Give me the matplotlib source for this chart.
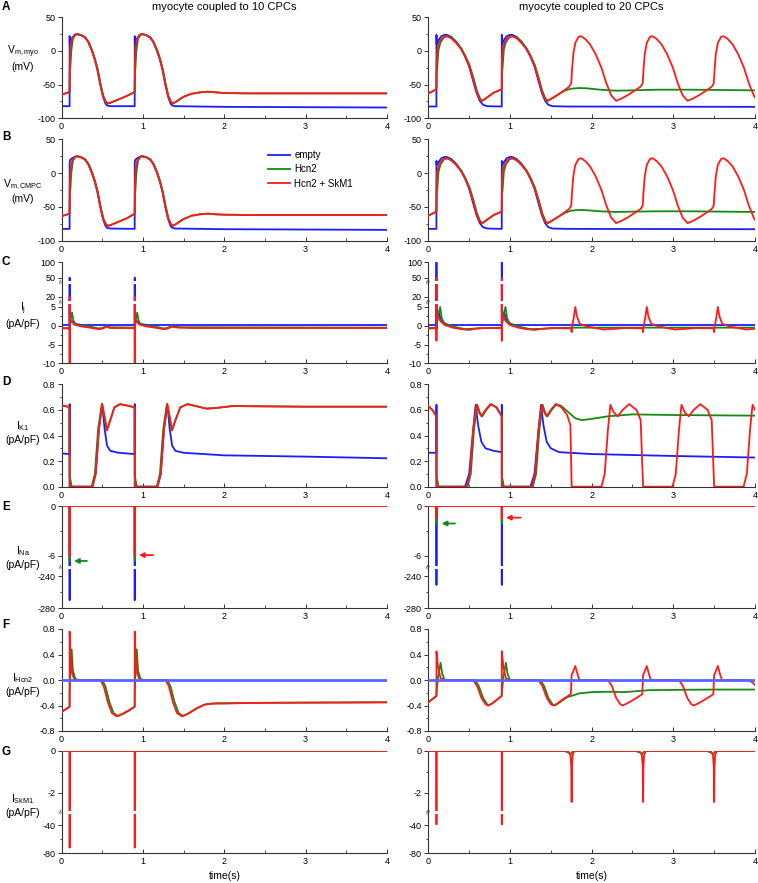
import numpy as np
import matplotlib.pyplot as plt

plt.rcParams['font.family'] = ['Liberation Sans', 'DejaVu Sans']
plt.rcParams['mathtext.fontset'] = 'custom'
plt.rcParams['mathtext.rm'] = 'Liberation Sans'
plt.rcParams['axes.unicode_minus'] = False

BLUE, GREEN, RED = '#1c1cff', '#138a13', '#ff1a1a'
FLAT_BLUE = '#5566ff'

series_names = ['empty', 'Hcn2', 'Hcn2 + SkM1']
col_titles = ['myocyte coupled to 10 CPCs', 'myocyte coupled to 20 CPCs']
spike_times = [0.1, 0.9]

# ---------------- A: Vm myocyte (mV) ----------------
vmyo10_t_red = [0, 0.05, 0.099, 0.102, 0.11, 0.13, 0.16, 0.19, 0.24, 0.29,
                0.33, 0.375, 0.41, 0.44, 0.477, 0.51, 0.54, 0.565, 0.6, 0.7,
                0.8, 0.899, 0.902, 0.91, 0.93, 0.96, 0.99, 1.04, 1.09, 1.13,
                1.175, 1.21, 1.24, 1.277, 1.31, 1.34, 1.365, 1.4, 1.5, 1.6,
                1.7, 1.8, 1.9, 2.0, 2.3, 3.0, 4.0]
vmyo10_red = [-65, -63, -61, -20, 5, 18, 24, 25, 23.5, 20,
              13, 0, -13, -27, -50, -67, -75, -78, -77, -72,
              -67, -61, -20, 5, 18, 24, 25, 23.5, 20, 13,
              0, -13, -27, -50, -67, -75, -78, -76, -68, -63.5,
              -61.5, -60.5, -61.5, -62.5, -63, -63, -63]
vmyo10_t_grn = [0, 0.05, 0.099, 0.103, 0.108, 0.12, 0.14, 0.17, 0.2, 0.245,
                0.295, 0.335, 0.38, 0.415, 0.445, 0.482, 0.515, 0.545, 0.57, 0.6,
                0.7, 0.8, 0.899, 0.903, 0.908, 0.92, 0.94, 0.97, 1.0, 1.045,
                1.095, 1.135, 1.18, 1.215, 1.245, 1.282, 1.315, 1.345, 1.37, 1.4,
                1.5, 1.6, 1.7, 1.8, 1.9, 2.0, 2.3, 3.0, 4.0]
vmyo10_grn = [-65, -63, -61, -30, -26, 0, 18, 24, 25, 23.5,
              20, 13, 0, -13, -27, -50, -67, -75, -78, -77,
              -72, -67, -61, -30, -26, 0, 18, 24, 25, 23.5,
              20, 13, 0, -13, -27, -50, -67, -75, -78, -76,
              -68, -63.5, -61.5, -60.5, -61.5, -62.5, -63, -63, -63]
vmyo10_t_blu = [0, 0.0995, 0.1, 0.102, 0.11, 0.13, 0.16, 0.19, 0.24, 0.29,
                0.33, 0.375, 0.41, 0.44, 0.477, 0.51, 0.54, 0.56, 0.6, 0.8995,
                0.9, 0.902, 0.91, 0.93, 0.96, 0.99, 1.04, 1.09, 1.13, 1.175,
                1.21, 1.24, 1.277, 1.31, 1.34, 1.36, 1.4, 2.0, 3.0, 4.0]
vmyo10_blu = [-82, -82, 22, 8, 12, 19, 24, 25, 23.5, 20,
              13, 0, -13, -27, -50, -68, -78, -81, -82, -82,
              22, 8, 12, 19, 24, 25, 23.5, 20, 13, 0,
              -13, -27, -50, -68, -78, -81, -82, -83, -83.5, -84]

vmyo20_t_red = [0, 0.05, 0.099, 0.102, 0.11, 0.13, 0.16, 0.2, 0.225, 0.28,
                0.34, 0.4, 0.45, 0.5, 0.55, 0.59, 0.63, 0.66, 0.72, 0.8, 0.899,
                0.902, 0.91, 0.93, 0.96, 1.0, 1.025, 1.08, 1.14, 1.2, 1.25,
                1.3, 1.35, 1.39, 1.43, 1.46, 1.52, 1.6, 1.68, 1.725,
                1.75, 1.76, 1.775, 1.8, 1.84, 1.87, 1.92, 1.98, 2.05, 2.12,
                2.18, 2.24, 2.3, 2.36, 2.45, 2.55, 2.6,
                2.625, 2.635, 2.65, 2.675, 2.715, 2.745, 2.795, 2.855, 2.925, 2.995,
                3.055, 3.115, 3.175, 3.235, 3.325, 3.425, 3.47,
                3.495, 3.505, 3.52, 3.545, 3.585, 3.615, 3.665, 3.725, 3.795, 3.865,
                3.925, 3.985, 4.0]
vmyo20_red = [-63, -60, -57, -15, 2, 12, 18, 21.5, 22, 19,
              12, 3, -8, -22, -42, -60, -72, -74, -69, -62, -57,
              -15, 2, 12, 18, 21.5, 22, 19, 12, 3, -8,
              -22, -42, -60, -72, -74, -70, -64, -57, -53,
              -48, -28, -5, 12, 21, 22, 18, 10, -5, -25,
              -48, -66, -74, -71, -65, -57, -53,
              -48, -28, -5, 12, 21, 22, 18, 10, -5, -25,
              -48, -66, -74, -71, -65, -57, -53,
              -48, -28, -5, 12, 21, 22, 18, 10, -5, -25,
              -48, -66, -69]
vmyo20_t_grn = [0, 0.05, 0.099, 0.103, 0.108, 0.125, 0.15, 0.19, 0.23, 0.285,
                0.345, 0.405, 0.455, 0.505, 0.555, 0.595, 0.635, 0.665, 0.72, 0.8, 0.899,
                0.903, 0.908, 0.925, 0.95, 0.99, 1.03, 1.085, 1.145, 1.205, 1.255,
                1.305, 1.355, 1.395, 1.435, 1.465, 1.52, 1.6, 1.68,
                1.75, 1.85, 1.95, 2.1, 2.3, 2.5, 2.8, 3.2, 3.6, 4.0]
vmyo20_grn = [-63, -60, -57, -30, -27, 2, 13, 20, 22, 19.5,
              12.5, 3.5, -7.5, -21, -41, -59, -71, -74, -69, -62, -57,
              -30, -27, 2, 13, 20, 22, 19.5, 12.5, 3.5, -7.5,
              -21, -41, -59, -71, -74, -70, -64, -58.5,
              -56, -55, -55.5, -57.5, -59, -58.5, -57.5, -57.5, -58, -58.5]
vmyo20_t_blu = [0, 0.0995, 0.1, 0.102, 0.11, 0.13, 0.16, 0.2, 0.225, 0.28,
                0.34, 0.4, 0.45, 0.5, 0.55, 0.59, 0.63, 0.67, 0.72, 0.8995,
                0.9, 0.902, 0.91, 0.93, 0.96, 1.0, 1.025, 1.08, 1.14, 1.2,
                1.25, 1.3, 1.35, 1.39, 1.43, 1.47, 1.52, 1.7, 4.0]
vmyo20_blu = [-82.5, -82.5, 24, 10, 12, 17, 22, 24, 24, 21,
              14, 4, -8, -23, -45, -62, -74, -80, -82, -82.5,
              24, 10, 12, 17, 22, 24, 24, 21, 14, 4,
              -8, -23, -45, -62, -74, -80, -82, -82.5, -83]

# ---------------- B: Vm CMPC (mV), same time grids as A ----------------
vcmpc10_red = [-63.5, -62, -60, -20, 5, 18, 24, 25, 23.5, 20,
               13, 0, -13, -27, -50, -67, -75, -78, -77, -72,
               -67, -60, -20, 5, 18, 24, 25, 23.5, 20, 13,
               0, -13, -27, -50, -67, -75, -78, -76, -68, -63,
               -61, -60, -61, -61.5, -62, -62, -62]
vcmpc10_grn = [-63.5, -62, -60, -30, -26, 0, 18, 24, 25, 23.5,
               20, 13, 0, -13, -27, -50, -67, -75, -78, -77,
               -72, -67, -60, -30, -26, 0, 18, 24, 25, 23.5,
               20, 13, 0, -13, -27, -50, -67, -75, -78, -76,
               -68, -63, -61, -60, -61, -61.5, -62, -62, -62]
vcmpc10_blu = [-82.5, -82.5, 14, 18, 20, 22, 24, 25, 23.5, 20,
               13, 0, -13, -27, -50, -68, -78, -81, -82, -82.5,
               14, 18, 20, 22, 24, 25, 23.5, 20, 13, 0,
               -13, -27, -50, -68, -78, -81, -82, -83, -83.5, -84]
vcmpc20_red = list(vmyo20_red)
vcmpc20_grn = [-63, -60, -57, -30, -27, 2, 13, 20, 22, 19.5,
               12.5, 3.5, -7.5, -21, -41, -59, -71, -74, -69, -62, -57,
               -30, -27, 2, 13, 20, 22, 19.5, 12.5, 3.5, -7.5,
               -21, -41, -59, -71, -74, -70, -64, -58.5,
               -55.5, -54.5, -55, -56.5, -57.5, -57, -56.5, -56.5, -57, -57.5]
vcmpc20_blu = [-82.5, -82.5, 18, 12, 13, 17, 22, 24, 24, 21,
               14, 4, -8, -23, -45, -62, -74, -80, -82, -82.5,
               18, 12, 13, 17, 22, 24, 24, 21, 14, 4,
               -8, -23, -45, -62, -74, -80, -82, -82.5, -83]

# ---------------- C: Ij (pA/pF) ----------------
ij10_t_blu = [0, 0.0995, 0.1, 0.1005, 0.11, 0.13, 0.17, 0.25, 0.8995, 0.9, 0.9005, 0.91, 0.93, 0.97, 1.05, 4.0]
ij10_blu = [0.2, 0.2, 50, -1, 1.0, 1.2, 0.5, 0.2, 0.2, 50, -1, 1.0, 1.2, 0.5, 0.2, 0.2]
ij10_t_red = [0, 0.0995, 0.1, 0.1003, 0.1006, 0.12, 0.16, 0.25, 0.35, 0.45,
              0.5, 0.55, 0.6, 0.75, 0.8995, 0.9, 0.9003, 0.9006, 0.92, 0.96,
              1.05, 1.15, 1.25, 1.3, 1.35, 1.45, 1.6, 2.5, 4.0]
ij10_red = [-0.7, -0.7, -12, 20, 2.5, 1.2, 0.3, -0.2, -0.5, -0.9,
            -0.8, -0.3, -0.6, -0.6, -0.6, -12, 20, 2.5, 1.2, 0.3,
            -0.2, -0.5, -0.9, -0.8, -0.3, -0.5, -0.6, -0.6, -0.6]
ij10_t_grn = [0, 0.0995, 0.1, 0.115, 0.13, 0.145, 0.17, 0.22, 0.35, 0.45,
              0.5, 0.55, 0.6, 0.8995, 0.9, 0.915, 0.93, 0.945, 0.97, 1.02,
              1.15, 1.25, 1.3, 1.35, 1.45, 4.0]
ij10_grn = [-0.6, -0.6, 0, 2, 3.5, 1.5, 0.4, 0.05, -0.2, -0.7,
            -0.6, -0.1, -0.4, -0.5, 0, 2, 3.5, 1.5, 0.4, 0.05,
            -0.2, -0.7, -0.6, -0.1, -0.4, -0.5]

ij20_t_blu = [0, 0.0995, 0.1, 0.1005, 0.11, 0.13, 0.16, 0.25, 0.8995, 0.9, 0.9005, 0.91, 0.93, 0.96, 1.05, 4.0]
ij20_blu = [0.2, 0.2, 100, -1, 2.5, 3.5, 1, 0.2, 0.2, 100, -1, 2.5, 3.5, 1, 0.2, 0.2]
ij20_t_red = [0, 0.0995, 0.1, 0.1003, 0.1006, 0.12, 0.14, 0.2, 0.3, 0.4, 0.5, 0.6, 0.7, 0.8995,
              0.9, 0.9003, 0.9006, 0.92, 0.94, 1.0, 1.1, 1.2, 1.3, 1.4, 1.5, 1.7,
              1.75, 1.755, 1.758, 1.78, 1.8, 1.82, 1.855, 1.945, 2.045, 2.145, 2.295, 2.4,
              2.625, 2.63, 2.633, 2.655, 2.675, 2.695, 2.73, 2.82, 2.92, 3.02, 3.17, 3.28,
              3.495, 3.5, 3.503, 3.525, 3.545, 3.565, 3.6, 3.69, 3.79, 3.89, 4.0]
ij20_red = [-0.8, -0.6, -4, 50, 2, 2.5, 1.5, 0.2, -0.5, -0.9, -1.1, -0.7, -0.6, -0.6,
            -4, 50, 2, 2.5, 1.5, 0.2, -0.5, -0.9, -1.1, -0.8, -0.6, -0.7,
            -0.7, -1.7, -0.5, 2, 5, 2.5, 0.5, -0.2, -0.6, -1.0, -0.8, -0.6,
            -0.7, -1.7, -0.5, 2, 5, 2.5, 0.5, -0.2, -0.6, -1.0, -0.8, -0.6,
            -0.7, -1.7, -0.5, 2, 5, 2.5, 0.5, -0.2, -0.6, -1.0, -0.8]
ij20_t_grn = [0, 0.0995, 0.1, 0.12, 0.145, 0.165, 0.2, 0.3, 0.45, 0.6,
              0.8995, 0.9, 0.92, 0.945, 0.965, 1.0, 1.1, 1.25, 1.4, 1.6, 1.8, 4.0]
ij20_grn = [-0.6, -0.5, -0.3, 3, 5, 2, 0.5, -0.2, -0.9, -0.7,
            -0.5, -0.3, 3, 5, 2, 0.5, -0.2, -0.9, -0.8, -0.6, -0.5, -0.5]

# ---------------- D: IK1 (pA/pF) ----------------
ik10_t_red = [0, 0.05, 0.0995, 0.1, 0.38, 0.42, 0.46, 0.5, 0.53, 0.56,
              0.6, 0.65, 0.72, 0.8, 0.8995, 0.9, 1.18, 1.22, 1.26, 1.3,
              1.33, 1.36, 1.4, 1.46, 1.55, 1.65, 1.78, 1.9, 2.1, 3.0, 4.0]
ik10_red = [0.635, 0.63, 0.62, 0.0, 0.0, 0.1, 0.45, 0.645, 0.55, 0.44,
            0.52, 0.62, 0.645, 0.635, 0.62, 0.0, 0.0, 0.1, 0.45, 0.645,
            0.55, 0.44, 0.52, 0.62, 0.645, 0.63, 0.61, 0.615, 0.63, 0.625, 0.625]
ik10_t_grn = [0, 0.05, 0.0995, 0.1, 0.105, 0.125, 0.37, 0.41, 0.45, 0.495,
              0.525, 0.555, 0.6, 0.65, 0.72, 0.8, 0.8995, 0.9, 0.905, 0.925,
              1.17, 1.21, 1.25, 1.295, 1.325, 1.355, 1.4, 1.46, 1.55, 1.65,
              1.78, 1.9, 2.1, 3.0, 4.0]
ik10_grn = [0.635, 0.63, 0.62, 0.09, 0.07, 0.0, 0.0, 0.1, 0.45, 0.645,
            0.55, 0.44, 0.52, 0.62, 0.645, 0.635, 0.62, 0.09, 0.07, 0.0,
            0.0, 0.1, 0.45, 0.645, 0.55, 0.44, 0.52, 0.62, 0.645, 0.63,
            0.61, 0.615, 0.63, 0.625, 0.625]
ik10_t_blu = [0, 0.0995, 0.1, 0.1005, 0.38, 0.42, 0.46, 0.5, 0.53, 0.56,
              0.6, 0.7, 0.8995, 0.9, 0.9005, 1.18, 1.22, 1.26, 1.3, 1.33,
              1.36, 1.4, 1.5, 2.0, 3.0, 4.0]
ik10_blu = [0.26, 0.255, 0.645, 0.0, 0.0, 0.1, 0.45, 0.645, 0.45, 0.32,
            0.28, 0.265, 0.255, 0.645, 0.0, 0.0, 0.1, 0.45, 0.645, 0.45,
            0.32, 0.28, 0.265, 0.245, 0.235, 0.222]

ik20_t_red = [0, 0.05, 0.0995, 0.1, 0.47, 0.51, 0.55, 0.59, 0.62, 0.65, 0.7, 0.76, 0.83, 0.8995,
              0.9, 1.27, 1.31, 1.35, 1.39, 1.42, 1.45, 1.5, 1.56, 1.63, 1.7, 1.74, 1.755,
              2.12, 2.16, 2.2, 2.23, 2.27, 2.32, 2.38, 2.46, 2.55, 2.6, 2.63,
              2.99, 3.03, 3.07, 3.1, 3.14, 3.19, 3.25, 3.33, 3.42, 3.47, 3.5,
              3.86, 3.9, 3.94, 3.97, 4.0]
ik20_red = [0.63, 0.6, 0.55, 0.0, 0.0, 0.1, 0.45, 0.64, 0.58, 0.55, 0.6, 0.645, 0.62, 0.55,
            0.0, 0.0, 0.1, 0.45, 0.64, 0.58, 0.55, 0.6, 0.645, 0.62, 0.56, 0.48, 0.0,
            0.0, 0.1, 0.45, 0.64, 0.58, 0.55, 0.6, 0.645, 0.6, 0.52, 0.0,
            0.0, 0.1, 0.45, 0.64, 0.58, 0.55, 0.6, 0.645, 0.6, 0.52, 0.0,
            0.0, 0.1, 0.45, 0.64, 0.6]
ik20_t_grn = [0, 0.05, 0.0995, 0.1, 0.105, 0.125, 0.48, 0.52, 0.56, 0.6,
              0.63, 0.66, 0.71, 0.77, 0.84, 0.8995, 0.9, 0.905, 0.925, 1.28,
              1.32, 1.36, 1.4, 1.43, 1.46, 1.51, 1.57, 1.63, 1.7, 1.8,
              1.88, 2.0, 2.2, 2.5, 3.0, 4.0]
ik20_grn = [0.63, 0.6, 0.55, 0.09, 0.07, 0.0, 0.0, 0.1, 0.45, 0.64,
            0.58, 0.55, 0.6, 0.645, 0.62, 0.55, 0.09, 0.07, 0.0, 0.0,
            0.1, 0.45, 0.64, 0.58, 0.55, 0.6, 0.645, 0.63, 0.59, 0.535,
            0.52, 0.53, 0.55, 0.565, 0.56, 0.555]
ik20_t_blu = [0, 0.0995, 0.1, 0.1005, 0.45, 0.5, 0.55, 0.58, 0.61, 0.65,
              0.7, 0.8, 0.8995, 0.9, 0.9005, 1.25, 1.3, 1.35, 1.38, 1.41,
              1.45, 1.5, 1.6, 2.0, 3.0, 4.0]
ik20_blu = [0.265, 0.265, 0.64, 0.0, 0.0, 0.1, 0.45, 0.64, 0.48, 0.35,
            0.3, 0.28, 0.27, 0.64, 0.0, 0.0, 0.1, 0.45, 0.64, 0.48,
            0.35, 0.3, 0.27, 0.255, 0.24, 0.228]

# ---------------- E: INa (pA/pF) ----------------
ina_t = [0, 0.0995, 0.1, 0.1005, 0.8995, 0.9, 0.9005, 4.0]
ina10_blu = [0, 0, -270, 0, 0, -270, 0, 0]
ina10_grn = [0, 0, -6.6, 0, 0, -6.6, 0, 0]
ina10_red = [0, 0, -6.0, 0, 0, -6.0, 0, 0]
ina20_blu = [0, 0, -251, 0, 0, -251, 0, 0]
ina20_grn = [0, 0, -2.1, 0, 0, -2.1, 0, 0]
ina20_red = [0, 0, -1.5, 0, 0, -1.5, 0, 0]

# ---------------- F: IHcn2 (pA/pF) ----------------
ih10_t_red = [0, 0.0995, 0.1, 0.11, 0.13, 0.16, 0.2, 0.48, 0.52, 0.57,
              0.62, 0.68, 0.75, 0.82, 0.8995, 0.9, 0.91, 0.93, 0.96, 1.0,
              1.28, 1.32, 1.37, 1.42, 1.48, 1.55, 1.65, 1.75, 1.85, 2.0,
              2.3, 3.0, 4.0]
ih10_red = [-0.5, -0.42, 0.76, 0.4, 0.1, 0.01, 0, 0, -0.1, -0.35,
            -0.52, -0.57, -0.53, -0.48, -0.42, 0.76, 0.4, 0.1, 0.01, 0,
            0, -0.1, -0.35, -0.52, -0.57, -0.53, -0.45, -0.39, -0.37, -0.37,
            -0.36, -0.355, -0.35]
ih10_t_grn = [0, 0.0995, 0.1, 0.11, 0.125, 0.14, 0.17, 0.2, 0.5, 0.54,
              0.59, 0.64, 0.695, 0.76, 0.83, 0.8995, 0.9, 0.91, 0.925, 0.94,
              0.97, 1.0, 1.3, 1.34, 1.39, 1.44, 1.495, 1.57, 1.67, 1.77,
              1.9, 2.2, 3.0, 4.0]
ih10_grn = [-0.5, -0.42, -0.2, 0.2, 0.48, 0.15, 0.02, 0, 0, -0.1,
            -0.35, -0.52, -0.565, -0.53, -0.48, -0.42, -0.2, 0.2, 0.48, 0.15,
            0.02, 0, 0, -0.1, -0.35, -0.52, -0.565, -0.52, -0.44, -0.38,
            -0.365, -0.36, -0.355, -0.35]

ih20_t_red = [0, 0.0995, 0.1, 0.12, 0.15, 0.2, 0.55, 0.6, 0.65, 0.7, 0.73, 0.78, 0.85, 0.8995,
              0.9, 0.92, 0.95, 1.0, 1.35, 1.4, 1.45, 1.5, 1.53, 1.58, 1.65, 1.7, 1.745,
              1.755, 1.77, 1.8, 1.825, 1.85, 2.2, 2.25, 2.3, 2.35, 2.38, 2.43, 2.5, 2.6, 2.62,
              2.63, 2.645, 2.675, 2.7, 2.725, 3.07, 3.12, 3.17, 3.22, 3.25, 3.3, 3.37, 3.47, 3.49,
              3.5, 3.515, 3.545, 3.57, 3.595, 3.92, 3.97, 4.0]
ih20_red = [-0.35, -0.25, 0.45, 0.2, 0.03, 0, 0, -0.1, -0.28, -0.38, -0.4, -0.37, -0.3, -0.25,
            0.45, 0.2, 0.03, 0, 0, -0.1, -0.28, -0.38, -0.4, -0.37, -0.3, -0.26, -0.22,
            0.08, 0.12, 0.22, 0.1, 0, 0, -0.1, -0.28, -0.38, -0.4, -0.37, -0.32, -0.24, -0.22,
            0.08, 0.12, 0.22, 0.1, 0, 0, -0.1, -0.28, -0.38, -0.4, -0.37, -0.32, -0.24, -0.22,
            0.08, 0.12, 0.22, 0.1, 0, 0, -0.04, -0.08]
ih20_t_grn = [0, 0.0995, 0.1, 0.12, 0.15, 0.17, 0.2, 0.57, 0.62, 0.67,
              0.72, 0.74, 0.79, 0.85, 0.8995, 0.9, 0.92, 0.95, 0.97, 1.0,
              1.37, 1.42, 1.47, 1.52, 1.55, 1.62, 1.7, 1.85, 2.0, 2.2,
              2.4, 2.7, 3.0, 3.5, 4.0]
ih20_grn = [-0.35, -0.25, -0.2, 0.05, 0.27, 0.1, 0, 0, -0.1, -0.28,
            -0.38, -0.4, -0.36, -0.3, -0.25, -0.2, 0.05, 0.27, 0.1, 0,
            0, -0.1, -0.28, -0.38, -0.4, -0.34, -0.27, -0.21, -0.19, -0.185,
            -0.19, -0.16, -0.155, -0.15, -0.15]
ih_t_blu = [0, 4]
ih_blu = [0, 0]

# ---------------- G: ISkM1 (pA/pF) ----------------
isk10_t_red = [0, 0.0995, 0.1, 0.1005, 0.8995, 0.9, 0.9005, 4.0]
isk10_red = [0, 0, -72, 0, 0, -72, 0, 0]
isk10_t_grn = [0, 4]
isk10_grn = [0, 0]
isk20_t_red = [0, 0.0995, 0.1, 0.1005, 0.8995, 0.9, 0.9005,
               1.685, 1.72, 1.74, 1.75, 1.755, 1.759, 1.767, 1.785, 1.815,
               2.56, 2.595, 2.615, 2.625, 2.63, 2.634, 2.642, 2.66, 2.69,
               3.43, 3.465, 3.485, 3.495, 3.5, 3.504, 3.512, 3.53, 3.56, 4.0]
isk20_red = [0, 0, -39, 0, 0, -39, 0,
             0, -0.05, -0.2, -0.7, -2.45, -0.8, -0.2, -0.02, 0,
             0, -0.05, -0.2, -0.7, -2.45, -0.8, -0.2, -0.02, 0,
             0, -0.05, -0.2, -0.7, -2.45, -0.8, -0.2, -0.02, 0, 0]
isk20_t_grn = [0, 1.67, 1.72, 1.745, 1.77, 2.54, 2.595, 2.62, 2.645, 3.41, 3.465, 3.49, 3.515, 4.0]
isk20_grn = [0, 0, -0.08, -0.15, 0, 0, -0.08, -0.15, 0, 0, -0.08, -0.15, 0, 0]

# ---------------- layout ----------------
W, H = 758, 883
fig = plt.figure(figsize=(W / 100, H / 100), dpi=100)

col_x = [(61.5, 387.0), (428.3, 755.0)]
row_y = [(17.3, 118.3), (139.3, 240.7), (262.3, 363.3), (384.3, 486.7),
         (506.0, 608.3), (629.0, 731.0), (751.0, 853.3)]


def fx(x):
    return x / W


def fy(y):
    return 1 - y / H


def piecewise(vals, pos):
    return (lambda v: np.interp(v, vals, pos), lambda p: np.interp(p, pos, vals))


rows = [
    dict(lim=(-100, 50), ticks=[-100, -50, 0, 50], minor=[-75, -25, 25]),
    dict(lim=(-100, 50), ticks=[-100, -50, 0, 50], minor=[-75, -25, 25]),
    dict(lim=(-10, 100), ticks=[-10, -5, 0, 5, 20, 50, 100], minor=[-7.5, -2.5, 2.5],
         scale=([-10, 5, 20, 50, 100], [0, 56.3, 66.6, 85.6, 101]), breaks=[12.5, 43.2]),
    dict(lim=(0, 0.8), ticks=[0, 0.2, 0.4, 0.6, 0.8], minor=[0.1, 0.3, 0.5, 0.7],
         labels=['0.0', '0.2', '0.4', '0.6', '0.8']),
    dict(lim=(-280, 0), ticks=[-280, -240, -6, 0], minor=[-260, -3],
         scale=([-280, -229.3, -7.35, 0], [0, 40.9, 41.1, 102.3]), breaks=[-100]),
    dict(lim=(-0.8, 0.8), ticks=[-0.8, -0.4, 0, 0.4, 0.8], minor=[-0.6, -0.2, 0.2, 0.6],
         labels=['-0.8', '-0.4', '0.0', '0.4', '0.8']),
    dict(lim=(-80, 0), ticks=[-80, -40, -2, 0], minor=[-60, -1],
         scale=([-80, -21.2, -2.91, 0], [0, 41.5, 41.7, 102.3]), breaks=[-10]),
]

ylabels = ['V$_\\mathregular{m,myo}$\n(mV)', 'V$_\\mathregular{m,CMPC}$\n(mV)',
           'I$_\\mathregular{j}$\n(pA/pF)', 'I$_\\mathregular{K1}$\n(pA/pF)',
           'I$_\\mathregular{Na}$\n(pA/pF)', 'I$_\\mathregular{Hcn2}$\n(pA/pF)',
           'I$_\\mathregular{SkM1}$\n(pA/pF)']
ylabel_y = [58, 191, 315, 432, 557, 684, 805]
letters = ['A', 'B', 'C', 'D', 'E', 'F', 'G']
letter_y = [6.7, 137, 261.7, 382, 507, 625, 752]

# (t, values, color) per panel, drawn in order: blue, green, red
panels = [
    [[(vmyo10_t_blu, vmyo10_blu, BLUE), (vmyo10_t_grn, vmyo10_grn, GREEN), (vmyo10_t_red, vmyo10_red, RED)],
     [(vmyo20_t_blu, vmyo20_blu, BLUE), (vmyo20_t_grn, vmyo20_grn, GREEN), (vmyo20_t_red, vmyo20_red, RED)]],
    [[(vmyo10_t_blu, vcmpc10_blu, BLUE), (vmyo10_t_grn, vcmpc10_grn, GREEN), (vmyo10_t_red, vcmpc10_red, RED)],
     [(vmyo20_t_blu, vcmpc20_blu, BLUE), (vmyo20_t_grn, vcmpc20_grn, GREEN), (vmyo20_t_red, vcmpc20_red, RED)]],
    [[(ij10_t_blu, ij10_blu, BLUE), (ij10_t_grn, ij10_grn, GREEN), (ij10_t_red, ij10_red, RED)],
     [(ij20_t_blu, ij20_blu, BLUE), (ij20_t_grn, ij20_grn, GREEN), (ij20_t_red, ij20_red, RED)]],
    [[(ik10_t_blu, ik10_blu, BLUE), (ik10_t_grn, ik10_grn, GREEN), (ik10_t_red, ik10_red, RED)],
     [(ik20_t_blu, ik20_blu, BLUE), (ik20_t_grn, ik20_grn, GREEN), (ik20_t_red, ik20_red, RED)]],
    [[(ina_t, ina10_blu, BLUE), (ina_t, ina10_grn, GREEN), (ina_t, ina10_red, RED)],
     [(ina_t, ina20_blu, BLUE), (ina_t, ina20_grn, GREEN), (ina_t, ina20_red, RED)]],
    [[(ih_t_blu, ih_blu, FLAT_BLUE), (ih10_t_grn, ih10_grn, GREEN), (ih10_t_red, ih10_red, RED)],
     [(ih_t_blu, ih_blu, FLAT_BLUE), (ih20_t_grn, ih20_grn, GREEN), (ih20_t_red, ih20_red, RED)]],
    [[(isk10_t_grn, isk10_grn, GREEN), (isk10_t_red, isk10_red, RED)],
     [(isk20_t_grn, isk20_grn, GREEN), (isk20_t_red, isk20_red, RED)]],
]

# arrows in panel E: (head t, tail t, value, color)
ina_arrows = [[(0.154, 0.313, -6.6, GREEN), (0.952, 1.124, -5.9, RED)],
              [(0.164, 0.327, -2.1, GREEN), (0.951, 1.131, -1.4, RED)]]

legend_ax = None
for r, cfg in enumerate(rows):
    for c in range(2):
        x0, x1 = col_x[c]
        y0, y1 = row_y[r]
        ax = fig.add_axes([fx(x0), fy(y1), (x1 - x0) / W, (y1 - y0) / H])
        ax.patch.set_alpha(0)
        if 'scale' in cfg:
            ax.set_yscale('function', functions=piecewise(*cfg['scale']))
        for k, (t, v, color) in enumerate(panels[r][c]):
            if color == FLAT_BLUE:
                # the flat "empty" trace in F sits on top of the others
                ax.plot(t, v, color=color, lw=2.0, zorder=6)
            else:
                ax.plot(t, v, color=color, lw=1.3, zorder=2 + k, solid_joinstyle='round')
        ax.set_xlim(0, 4)
        ax.set_ylim(*cfg['lim'])
        ax.set_yticks(cfg['ticks'], labels=cfg.get('labels', [str(v) for v in cfg['ticks']]))
        ax.set_yticks(cfg['minor'], minor=True)
        ax.set_xticks(range(5))
        ax.set_xticks([0.5, 1.5, 2.5, 3.5], minor=True)
        for s in ('top', 'right'):
            ax.spines[s].set_visible(False)
        for s in ('left', 'bottom'):
            ax.spines[s].set_linewidth(0.8)
            ax.spines[s].set_color('#333333')
        ax.tick_params(axis='y', which='major', direction='out', length=3, width=0.7,
                       pad=1.5, labelsize=6.5, color='#333333')
        ax.tick_params(axis='y', which='minor', direction='out', length=1.8, width=0.6, color='#333333')
        ax.tick_params(axis='x', which='major', direction='in', length=3, width=0.7,
                       pad=3, labelsize=6.5, color='#333333')
        ax.tick_params(axis='x', which='minor', direction='in', length=2, width=0.6, color='#333333')

        for b in cfg.get('breaks', []):
            ax.plot(spike_times, [b] * len(spike_times), ls='none', marker='_', ms=5, mew=2.2,
                    color='white', zorder=8)
            ax.text(0, b, '≈', transform=ax.get_yaxis_transform(), ha='center', va='center',
                    fontsize=6, rotation=60, color='#333333', zorder=9)

        if r == 4:
            for head, tail, val, color in ina_arrows[c]:
                ax.annotate('', xy=(head, val), xytext=(tail, val),
                            arrowprops=dict(arrowstyle='-|>', color=color, lw=1.3,
                                            mutation_scale=7, shrinkA=0, shrinkB=0))
        if r == 1 and c == 0:
            legend_ax = ax

# legend in panel B (left)
handles = legend_ax.get_lines()[:3]
legend_ax.legend(handles, series_names, loc='upper left', bbox_to_anchor=(fx(268), fy(150)),
                 bbox_transform=fig.transFigure, frameon=False, fontsize=7, handlelength=2.3,
                 handletextpad=0.4, labelspacing=0.45, borderpad=0, borderaxespad=0)

for r in range(7):
    fig.text(fx(2), fy(letter_y[r]), letters[r], fontsize=8.5, fontweight='bold', ha='left', va='center')
    fig.text(fx(23), fy(ylabel_y[r]), ylabels[r], fontsize=7.5, ha='center', va='center',
             multialignment='center', linespacing=1.3)

fig.text(fx(224), fy(7.5), col_titles[0], fontsize=8, ha='center', va='center')
fig.text(fx(591.7), fy(7.5), col_titles[1], fontsize=8, ha='center', va='center')
fig.text(fx(224.7), fy(876), 'time(s)', fontsize=7.5, ha='center', va='center')
fig.text(fx(591.7), fy(876), 'time(s)', fontsize=7.5, ha='center', va='center')

fig.savefig('out.png', dpi=100)
